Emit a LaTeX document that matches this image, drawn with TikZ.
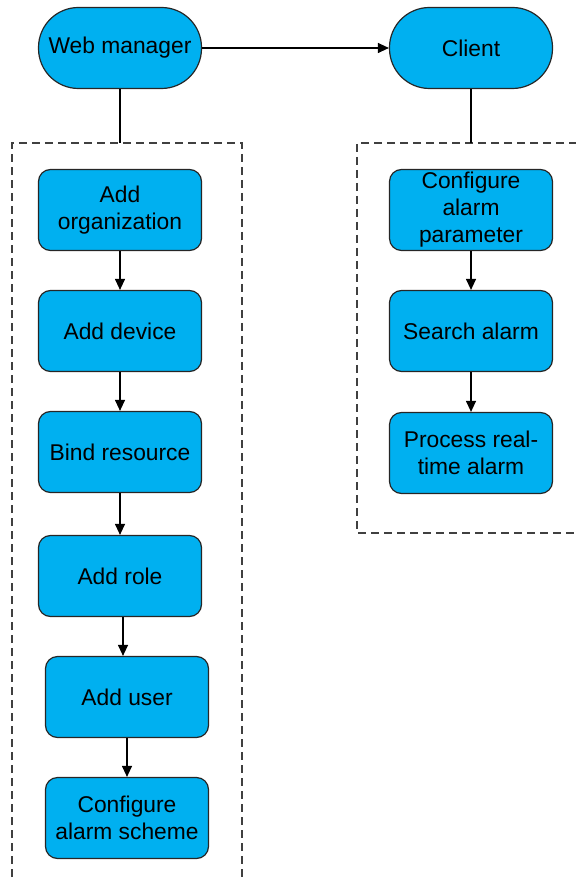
\documentclass[tikz,border=0pt]{standalone}
\usepackage{fontspec}
\setmainfont{Liberation Sans}
\usepackage{xcolor}
\usetikzlibrary{positioning, arrows.meta}
\definecolor{boxblue}{HTML}{00B0F0}

\begin{document}
\begin{tikzpicture}[
    x=0.5pt, y=-0.5pt,
    box/.style={rectangle, draw=black!85, fill=boxblue, rounded corners=6pt, minimum height=40.5pt, minimum width=81.5pt, inner xsep=2pt, inner ysep=0pt, align=center, font=\fontsize{11.4}{13.5}\selectfont, line width=0.6pt},
    term/.style={box, rounded corners=20pt},
    arrow/.style={-{Triangle[length=5.5pt, width=5pt]}, line width=0.6pt},
    link/.style={line width=0.6pt},
    group/.style={dash pattern=on 4pt off 2.5pt, line width=0.6pt, draw=black!75}
]
\useasboundingbox (0,0) rectangle (576,881);

\node[term] (web) at (120,48) {Web manager};
\node[term] (client) at (471,48) {Client};

\node[box] (org) at (120,210) {Add\\organization};
\node[box] (dev) at (120,331) {Add device};
\node[box] (bind) at (120,452) {Bind resource};
\node[box] (role) at (120,576) {Add role};
\node[box] (user) at (127,697) {Add user};
\node[box] (scheme) at (127,818) {Configure\\alarm scheme};

\node[box] (param) at (471,210) {Configure\\alarm\\parameter};
\node[box] (search) at (471,331) {Search alarm};
\node[box] (realtime) at (471,453) {Process real-\\time alarm};

% dashed groups
\coordinate (ltop) at (120,143);
\coordinate (rtop) at (471,143);
\draw[group] (12,890) -- (12,143) -- (242,143) -- (242,890);
\draw[group] (590,143) -- (357,143) -- (357,533) -- (590,533);

\draw[arrow] (web) -- (client);
\draw[link] (web) -- (ltop);
\draw[link] (client) -- (rtop);

\draw[arrow] (org) -- (dev);
\draw[arrow] (dev) -- (bind);
\draw[arrow] (bind) -- (role);
\draw[arrow] ([xshift=1.5pt]role.south) -- ([xshift=-2pt]user.north);
\draw[arrow] (user) -- (scheme);

\draw[arrow] (param) -- (search);
\draw[arrow] (search) -- (realtime);

\end{tikzpicture}
\end{document}
